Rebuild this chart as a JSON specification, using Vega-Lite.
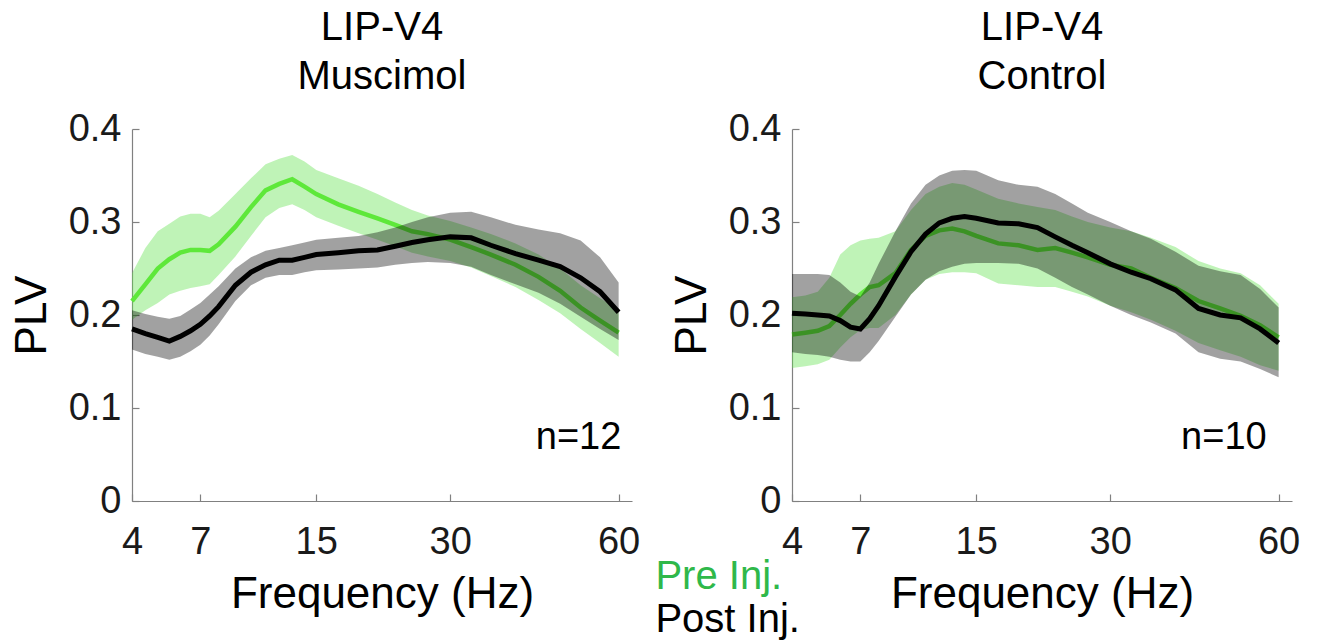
{
  "$schema": "https://vega.github.io/schema/vega-lite/v6.json",
  "background": "white",
  "padding": {"left": 10, "top": 8, "right": 5, "bottom": 0},
  "autosize": {"type": "pad"},
  "bounds": "flush",
  "spacing": 160,
  "config": {
    "view": {"stroke": null},
    "font": "Liberation Sans",
    "axis": {
      "grid": false,
      "domainColor": "#808080",
      "domainWidth": 1.2,
      "tickColor": "#808080",
      "tickWidth": 1.2,
      "tickSize": -7,
      "labelFont": "Liberation Sans",
      "labelFontSize": 38,
      "labelColor": "#1a1a1a",
      "titleFont": "Liberation Sans",
      "titleFontSize": 44,
      "titleFontWeight": "normal",
      "titleColor": "#000000"
    },
    "axisX": {"labelPadding": 29, "titlePadding": 11, "labelFlush": false},
    "axisY": {"labelPadding": 18, "titlePadding": 14},
    "title": {"font": "Liberation Sans", "fontSize": 40, "fontWeight": "normal", "color": "#000000", "lineHeight": 49, "offset": 13, "anchor": "middle"}
  },
  "datasets": {
    "curves": [
      {"panel":"Muscimol","series":"Pre","freq":4,"plv":0.215,"lo":0.195,"hi":0.245},
      {"panel":"Muscimol","series":"Pre","freq":4.5,"plv":0.233,"lo":0.205,"hi":0.272},
      {"panel":"Muscimol","series":"Pre","freq":5,"plv":0.250,"lo":0.213,"hi":0.290},
      {"panel":"Muscimol","series":"Pre","freq":5.5,"plv":0.260,"lo":0.222,"hi":0.298},
      {"panel":"Muscimol","series":"Pre","freq":6,"plv":0.267,"lo":0.226,"hi":0.306},
      {"panel":"Muscimol","series":"Pre","freq":6.5,"plv":0.270,"lo":0.229,"hi":0.309},
      {"panel":"Muscimol","series":"Pre","freq":7,"plv":0.270,"lo":0.231,"hi":0.309},
      {"panel":"Muscimol","series":"Pre","freq":7.5,"plv":0.269,"lo":0.233,"hi":0.305},
      {"panel":"Muscimol","series":"Pre","freq":8,"plv":0.276,"lo":0.243,"hi":0.312},
      {"panel":"Muscimol","series":"Pre","freq":9,"plv":0.295,"lo":0.263,"hi":0.330},
      {"panel":"Muscimol","series":"Pre","freq":10,"plv":0.316,"lo":0.285,"hi":0.347},
      {"panel":"Muscimol","series":"Pre","freq":11,"plv":0.334,"lo":0.305,"hi":0.362},
      {"panel":"Muscimol","series":"Pre","freq":12,"plv":0.341,"lo":0.315,"hi":0.368},
      {"panel":"Muscimol","series":"Pre","freq":13,"plv":0.346,"lo":0.319,"hi":0.372},
      {"panel":"Muscimol","series":"Pre","freq":14,"plv":0.338,"lo":0.313,"hi":0.365},
      {"panel":"Muscimol","series":"Pre","freq":15,"plv":0.330,"lo":0.305,"hi":0.356},
      {"panel":"Muscimol","series":"Pre","freq":17,"plv":0.319,"lo":0.296,"hi":0.347},
      {"panel":"Muscimol","series":"Pre","freq":19,"plv":0.311,"lo":0.288,"hi":0.339},
      {"panel":"Muscimol","series":"Pre","freq":21,"plv":0.304,"lo":0.281,"hi":0.330},
      {"panel":"Muscimol","series":"Pre","freq":23,"plv":0.297,"lo":0.274,"hi":0.321},
      {"panel":"Muscimol","series":"Pre","freq":25,"plv":0.290,"lo":0.267,"hi":0.313},
      {"panel":"Muscimol","series":"Pre","freq":27,"plv":0.287,"lo":0.263,"hi":0.307},
      {"panel":"Muscimol","series":"Pre","freq":30,"plv":0.281,"lo":0.258,"hi":0.301},
      {"panel":"Muscimol","series":"Pre","freq":33,"plv":0.273,"lo":0.251,"hi":0.294},
      {"panel":"Muscimol","series":"Pre","freq":36,"plv":0.265,"lo":0.242,"hi":0.287},
      {"panel":"Muscimol","series":"Pre","freq":40,"plv":0.254,"lo":0.230,"hi":0.277},
      {"panel":"Muscimol","series":"Pre","freq":44,"plv":0.241,"lo":0.216,"hi":0.265},
      {"panel":"Muscimol","series":"Pre","freq":48,"plv":0.226,"lo":0.202,"hi":0.250},
      {"panel":"Muscimol","series":"Pre","freq":52,"plv":0.208,"lo":0.185,"hi":0.232},
      {"panel":"Muscimol","series":"Pre","freq":56,"plv":0.194,"lo":0.170,"hi":0.218},
      {"panel":"Muscimol","series":"Pre","freq":60,"plv":0.181,"lo":0.155,"hi":0.206},

      {"panel":"Muscimol","series":"Post","freq":4,"plv":0.185,"lo":0.163,"hi":0.205},
      {"panel":"Muscimol","series":"Post","freq":4.5,"plv":0.180,"lo":0.158,"hi":0.201},
      {"panel":"Muscimol","series":"Post","freq":5,"plv":0.176,"lo":0.155,"hi":0.198},
      {"panel":"Muscimol","series":"Post","freq":5.5,"plv":0.172,"lo":0.152,"hi":0.196},
      {"panel":"Muscimol","series":"Post","freq":6,"plv":0.177,"lo":0.155,"hi":0.199},
      {"panel":"Muscimol","series":"Post","freq":6.5,"plv":0.183,"lo":0.161,"hi":0.206},
      {"panel":"Muscimol","series":"Post","freq":7,"plv":0.190,"lo":0.168,"hi":0.213},
      {"panel":"Muscimol","series":"Post","freq":7.5,"plv":0.199,"lo":0.178,"hi":0.222},
      {"panel":"Muscimol","series":"Post","freq":8,"plv":0.209,"lo":0.190,"hi":0.231},
      {"panel":"Muscimol","series":"Post","freq":9,"plv":0.232,"lo":0.215,"hi":0.250},
      {"panel":"Muscimol","series":"Post","freq":10,"plv":0.246,"lo":0.232,"hi":0.262},
      {"panel":"Muscimol","series":"Post","freq":11,"plv":0.254,"lo":0.240,"hi":0.269},
      {"panel":"Muscimol","series":"Post","freq":12,"plv":0.259,"lo":0.243,"hi":0.272},
      {"panel":"Muscimol","series":"Post","freq":13,"plv":0.259,"lo":0.243,"hi":0.275},
      {"panel":"Muscimol","series":"Post","freq":14,"plv":0.262,"lo":0.246,"hi":0.278},
      {"panel":"Muscimol","series":"Post","freq":15,"plv":0.265,"lo":0.248,"hi":0.281},
      {"panel":"Muscimol","series":"Post","freq":17,"plv":0.267,"lo":0.249,"hi":0.283},
      {"panel":"Muscimol","series":"Post","freq":19,"plv":0.269,"lo":0.250,"hi":0.285},
      {"panel":"Muscimol","series":"Post","freq":21,"plv":0.270,"lo":0.251,"hi":0.289},
      {"panel":"Muscimol","series":"Post","freq":23,"plv":0.274,"lo":0.254,"hi":0.294},
      {"panel":"Muscimol","series":"Post","freq":25,"plv":0.278,"lo":0.256,"hi":0.300},
      {"panel":"Muscimol","series":"Post","freq":27,"plv":0.281,"lo":0.257,"hi":0.305},
      {"panel":"Muscimol","series":"Post","freq":30,"plv":0.284,"lo":0.256,"hi":0.310},
      {"panel":"Muscimol","series":"Post","freq":33,"plv":0.283,"lo":0.252,"hi":0.311},
      {"panel":"Muscimol","series":"Post","freq":36,"plv":0.275,"lo":0.243,"hi":0.305},
      {"panel":"Muscimol","series":"Post","freq":40,"plv":0.266,"lo":0.233,"hi":0.297},
      {"panel":"Muscimol","series":"Post","freq":44,"plv":0.259,"lo":0.224,"hi":0.292},
      {"panel":"Muscimol","series":"Post","freq":48,"plv":0.252,"lo":0.212,"hi":0.288},
      {"panel":"Muscimol","series":"Post","freq":52,"plv":0.240,"lo":0.198,"hi":0.280},
      {"panel":"Muscimol","series":"Post","freq":56,"plv":0.225,"lo":0.185,"hi":0.262},
      {"panel":"Muscimol","series":"Post","freq":60,"plv":0.203,"lo":0.173,"hi":0.235},

      {"panel":"Control","series":"Pre","freq":4,"plv":0.179,"lo":0.143,"hi":0.219},
      {"panel":"Control","series":"Pre","freq":4.5,"plv":0.181,"lo":0.145,"hi":0.221},
      {"panel":"Control","series":"Pre","freq":5,"plv":0.183,"lo":0.147,"hi":0.225},
      {"panel":"Control","series":"Pre","freq":5.5,"plv":0.188,"lo":0.152,"hi":0.240},
      {"panel":"Control","series":"Pre","freq":6,"plv":0.200,"lo":0.165,"hi":0.265},
      {"panel":"Control","series":"Pre","freq":6.5,"plv":0.212,"lo":0.176,"hi":0.275},
      {"panel":"Control","series":"Pre","freq":7,"plv":0.222,"lo":0.184,"hi":0.280},
      {"panel":"Control","series":"Pre","freq":7.5,"plv":0.230,"lo":0.186,"hi":0.282},
      {"panel":"Control","series":"Pre","freq":8,"plv":0.232,"lo":0.186,"hi":0.283},
      {"panel":"Control","series":"Pre","freq":9,"plv":0.245,"lo":0.200,"hi":0.290},
      {"panel":"Control","series":"Pre","freq":10,"plv":0.270,"lo":0.222,"hi":0.313},
      {"panel":"Control","series":"Pre","freq":11,"plv":0.285,"lo":0.238,"hi":0.330},
      {"panel":"Control","series":"Pre","freq":12,"plv":0.291,"lo":0.244,"hi":0.338},
      {"panel":"Control","series":"Pre","freq":13,"plv":0.293,"lo":0.246,"hi":0.342},
      {"panel":"Control","series":"Pre","freq":14,"plv":0.290,"lo":0.246,"hi":0.340},
      {"panel":"Control","series":"Pre","freq":15,"plv":0.285,"lo":0.245,"hi":0.335},
      {"panel":"Control","series":"Pre","freq":17,"plv":0.277,"lo":0.234,"hi":0.325},
      {"panel":"Control","series":"Pre","freq":19,"plv":0.275,"lo":0.232,"hi":0.320},
      {"panel":"Control","series":"Pre","freq":21,"plv":0.270,"lo":0.230,"hi":0.316},
      {"panel":"Control","series":"Pre","freq":23,"plv":0.272,"lo":0.230,"hi":0.313},
      {"panel":"Control","series":"Pre","freq":25,"plv":0.267,"lo":0.225,"hi":0.306},
      {"panel":"Control","series":"Pre","freq":27,"plv":0.262,"lo":0.220,"hi":0.300},
      {"panel":"Control","series":"Pre","freq":30,"plv":0.254,"lo":0.210,"hi":0.294},
      {"panel":"Control","series":"Pre","freq":33,"plv":0.250,"lo":0.203,"hi":0.290},
      {"panel":"Control","series":"Pre","freq":36,"plv":0.240,"lo":0.195,"hi":0.283},
      {"panel":"Control","series":"Pre","freq":40,"plv":0.229,"lo":0.183,"hi":0.273},
      {"panel":"Control","series":"Pre","freq":44,"plv":0.215,"lo":0.170,"hi":0.258},
      {"panel":"Control","series":"Pre","freq":48,"plv":0.207,"lo":0.162,"hi":0.250},
      {"panel":"Control","series":"Pre","freq":52,"plv":0.199,"lo":0.155,"hi":0.245},
      {"panel":"Control","series":"Pre","freq":56,"plv":0.189,"lo":0.146,"hi":0.232},
      {"panel":"Control","series":"Pre","freq":60,"plv":0.176,"lo":0.140,"hi":0.212},

      {"panel":"Control","series":"Post","freq":4,"plv":0.202,"lo":0.160,"hi":0.244},
      {"panel":"Control","series":"Post","freq":4.5,"plv":0.201,"lo":0.158,"hi":0.244},
      {"panel":"Control","series":"Post","freq":5,"plv":0.200,"lo":0.157,"hi":0.244},
      {"panel":"Control","series":"Post","freq":5.5,"plv":0.199,"lo":0.155,"hi":0.243},
      {"panel":"Control","series":"Post","freq":6,"plv":0.194,"lo":0.152,"hi":0.235},
      {"panel":"Control","series":"Post","freq":6.5,"plv":0.187,"lo":0.150,"hi":0.225},
      {"panel":"Control","series":"Post","freq":7,"plv":0.185,"lo":0.150,"hi":0.220},
      {"panel":"Control","series":"Post","freq":7.5,"plv":0.196,"lo":0.160,"hi":0.235},
      {"panel":"Control","series":"Post","freq":8,"plv":0.210,"lo":0.172,"hi":0.255},
      {"panel":"Control","series":"Post","freq":9,"plv":0.241,"lo":0.198,"hi":0.290},
      {"panel":"Control","series":"Post","freq":10,"plv":0.268,"lo":0.222,"hi":0.320},
      {"panel":"Control","series":"Post","freq":11,"plv":0.287,"lo":0.238,"hi":0.340},
      {"panel":"Control","series":"Post","freq":12,"plv":0.299,"lo":0.247,"hi":0.350},
      {"panel":"Control","series":"Post","freq":13,"plv":0.304,"lo":0.252,"hi":0.355},
      {"panel":"Control","series":"Post","freq":14,"plv":0.306,"lo":0.255,"hi":0.356},
      {"panel":"Control","series":"Post","freq":15,"plv":0.304,"lo":0.256,"hi":0.355},
      {"panel":"Control","series":"Post","freq":17,"plv":0.299,"lo":0.256,"hi":0.345},
      {"panel":"Control","series":"Post","freq":19,"plv":0.298,"lo":0.255,"hi":0.340},
      {"panel":"Control","series":"Post","freq":21,"plv":0.294,"lo":0.250,"hi":0.338},
      {"panel":"Control","series":"Post","freq":23,"plv":0.284,"lo":0.240,"hi":0.330},
      {"panel":"Control","series":"Post","freq":25,"plv":0.275,"lo":0.230,"hi":0.320},
      {"panel":"Control","series":"Post","freq":27,"plv":0.267,"lo":0.222,"hi":0.310},
      {"panel":"Control","series":"Post","freq":30,"plv":0.255,"lo":0.210,"hi":0.300},
      {"panel":"Control","series":"Post","freq":33,"plv":0.246,"lo":0.200,"hi":0.290},
      {"panel":"Control","series":"Post","freq":36,"plv":0.239,"lo":0.192,"hi":0.282},
      {"panel":"Control","series":"Post","freq":40,"plv":0.227,"lo":0.180,"hi":0.268},
      {"panel":"Control","series":"Post","freq":44,"plv":0.207,"lo":0.160,"hi":0.253},
      {"panel":"Control","series":"Post","freq":48,"plv":0.200,"lo":0.153,"hi":0.247},
      {"panel":"Control","series":"Post","freq":52,"plv":0.197,"lo":0.150,"hi":0.243},
      {"panel":"Control","series":"Post","freq":56,"plv":0.185,"lo":0.142,"hi":0.228},
      {"panel":"Control","series":"Post","freq":60,"plv":0.170,"lo":0.133,"hi":0.208}
    ],
    "notes": [
      {"panel":"Muscimol","kind":"n","label":"n=12","freq":60.6,"plv":0.056},
      {"panel":"Control","kind":"n","label":"n=10","freq":57.4,"plv":0.056},
      {"panel":"Muscimol","kind":"pre","label":"Pre Inj.","freq":68.5,"plv":-0.0946},
      {"panel":"Muscimol","kind":"post","label":"Post Inj.","freq":68.5,"plv":-0.1409}
    ]
  },
  "hconcat": [
    {
      "width": 500,
      "height": 372,
      "title": {"text": ["LIP-V4", "Muscimol"]},
      "encoding": {
        "x": {"field": "freq", "type": "quantitative", "title": "Frequency (Hz)",
              "scale": {"type": "pow", "exponent": 0.33, "domain": [4, 63], "nice": false, "zero": false},
              "axis": {"values": [4, 7, 15, 30, 60]}},
        "y": {"field": "plv", "type": "quantitative", "title": "PLV",
              "scale": {"domain": [0, 0.4], "nice": false, "zero": false},
              "axis": {"values": [0, 0.1, 0.2, 0.3, 0.4], "labelExpr": "datum.value === 0 ? '0' : format(datum.value, '.1f')"}}
      },
      "layer": [
        {"data": {"name": "curves"}, "transform": [{"filter": "datum.panel === 'Muscimol' && datum.series === 'Pre'"}],
         "mark": {"type": "area", "color": "#5ee04a", "opacity": 0.4},
         "encoding": {"y": {"field": "lo", "type": "quantitative", "title": "PLV"}, "y2": {"field": "hi"}}},
        {"data": {"name": "curves"}, "transform": [{"filter": "datum.panel === 'Muscimol' && datum.series === 'Pre'"}],
         "mark": {"type": "line", "color": "#5ee83a", "strokeWidth": 4.5}},
        {"data": {"name": "curves"}, "transform": [{"filter": "datum.panel === 'Muscimol' && datum.series === 'Post'"}],
         "mark": {"type": "area", "color": "#000000", "opacity": 0.37},
         "encoding": {"y": {"field": "lo", "type": "quantitative", "title": "PLV"}, "y2": {"field": "hi"}}},
        {"data": {"name": "curves"}, "transform": [{"filter": "datum.panel === 'Muscimol' && datum.series === 'Post'"}],
         "mark": {"type": "line", "color": "#000000", "strokeWidth": 5}},
        {"data": {"name": "notes"}, "transform": [{"filter": "datum.panel === 'Muscimol' && datum.kind === 'n'"}],
         "mark": {"type": "text", "align": "right", "baseline": "alphabetic", "fontSize": 38, "font": "Liberation Sans", "color": "#000000"},
         "encoding": {"text": {"field": "label"}}},
        {"data": {"name": "notes"}, "transform": [{"filter": "datum.kind === 'pre'"}],
         "mark": {"type": "text", "align": "left", "baseline": "alphabetic", "fontSize": 40, "font": "Liberation Sans", "color": "#2fb84a"},
         "encoding": {"text": {"field": "label"}}},
        {"data": {"name": "notes"}, "transform": [{"filter": "datum.kind === 'post'"}],
         "mark": {"type": "text", "align": "left", "baseline": "alphabetic", "fontSize": 40, "font": "Liberation Sans", "color": "#000000"},
         "encoding": {"text": {"field": "label"}}}
      ]
    },
    {
      "width": 500,
      "height": 372,
      "title": {"text": ["LIP-V4", "Control"]},
      "encoding": {
        "x": {"field": "freq", "type": "quantitative", "title": "Frequency (Hz)",
              "scale": {"type": "pow", "exponent": 0.33, "domain": [4, 63], "nice": false, "zero": false},
              "axis": {"values": [4, 7, 15, 30, 60]}},
        "y": {"field": "plv", "type": "quantitative", "title": "PLV",
              "scale": {"domain": [0, 0.4], "nice": false, "zero": false},
              "axis": {"values": [0, 0.1, 0.2, 0.3, 0.4], "labelExpr": "datum.value === 0 ? '0' : format(datum.value, '.1f')"}}
      },
      "layer": [
        {"data": {"name": "curves"}, "transform": [{"filter": "datum.panel === 'Control' && datum.series === 'Pre'"}],
         "mark": {"type": "area", "color": "#5ee04a", "opacity": 0.4},
         "encoding": {"y": {"field": "lo", "type": "quantitative", "title": "PLV"}, "y2": {"field": "hi"}}},
        {"data": {"name": "curves"}, "transform": [{"filter": "datum.panel === 'Control' && datum.series === 'Pre'"}],
         "mark": {"type": "line", "color": "#5ee83a", "strokeWidth": 4.5}},
        {"data": {"name": "curves"}, "transform": [{"filter": "datum.panel === 'Control' && datum.series === 'Post'"}],
         "mark": {"type": "area", "color": "#000000", "opacity": 0.37},
         "encoding": {"y": {"field": "lo", "type": "quantitative", "title": "PLV"}, "y2": {"field": "hi"}}},
        {"data": {"name": "curves"}, "transform": [{"filter": "datum.panel === 'Control' && datum.series === 'Post'"}],
         "mark": {"type": "line", "color": "#000000", "strokeWidth": 5}},
        {"data": {"name": "notes"}, "transform": [{"filter": "datum.panel === 'Control' && datum.kind === 'n'"}],
         "mark": {"type": "text", "align": "right", "baseline": "alphabetic", "fontSize": 38, "font": "Liberation Sans", "color": "#000000"},
         "encoding": {"text": {"field": "label"}}}
      ]
    }
  ]
}
